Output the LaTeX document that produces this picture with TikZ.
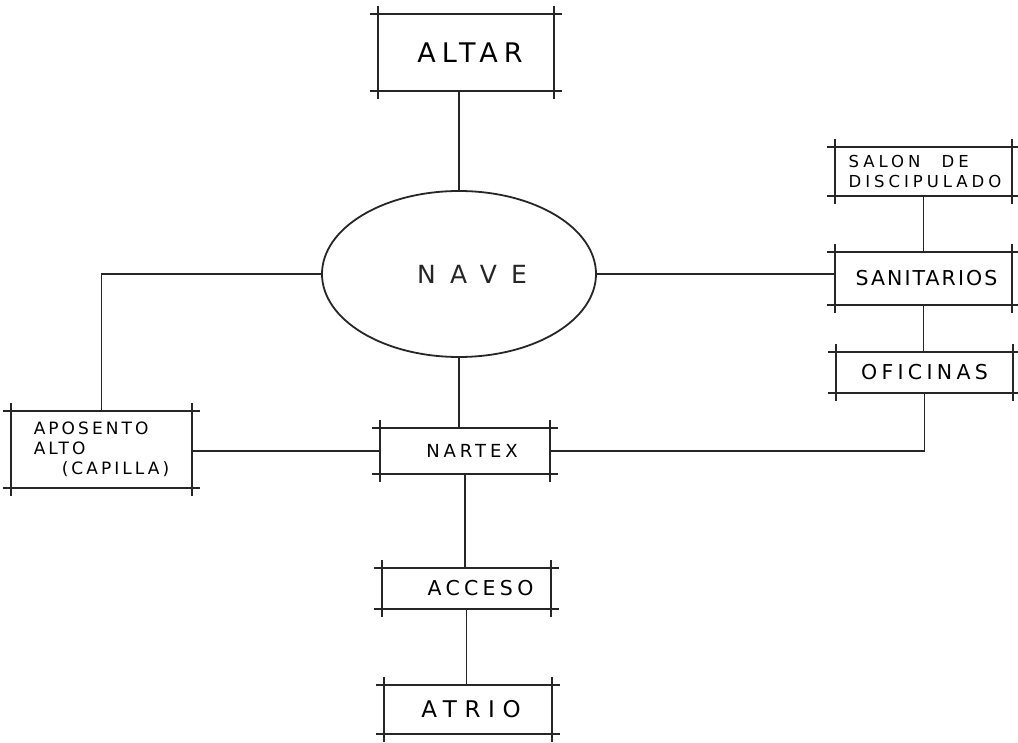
\documentclass[tikz,border=0pt]{standalone}
\usepackage{fontspec}
\newfontfamily\hand{DejaVu Sans}
\usetikzlibrary{shapes.geometric}
\newcommand\hf[2]{\hand\fontsize{#1}{20}\selectfont\addfontfeature{LetterSpace=#2}}
\newcommand\skbox[1]{%
  \draw[boxline] ([xshift=-8pt]#1.north west) -- ([xshift=8pt]#1.north east);
  \draw[boxline] ([xshift=-8pt]#1.south west) -- ([xshift=8pt]#1.south east);
  \draw[boxline] ([yshift=8pt]#1.north west) -- ([yshift=-8pt]#1.south west);
  \draw[boxline] ([yshift=8pt]#1.north east) -- ([yshift=-8pt]#1.south east);}
\begin{document}
\begin{tikzpicture}[x=1pt,y=-1pt,
  box/.style={draw=none, inner sep=0pt, rectangle},
  boxline/.style={line width=1.8pt, black!85},
  conn/.style={line width=1.8pt, black!85}]
\useasboundingbox (0,0) rectangle (1018,743);
\node[box, minimum width=176, minimum height=77, font=\hf{27}{22}] (altar) at (466,52.5) {\hspace{8pt}ALTAR};
\node[ellipse, draw, line width=1.8pt, black!85, inner sep=0pt, minimum width=274, minimum height=166, font=\hf{25}{57}] (nave) at (459,274) {\hspace{26pt}NAVE};
\node[box, minimum width=177, minimum height=49, align=left, font=\hf{16.5}{24}] (salon) at (923.5,171.5) {\hspace{3pt}SALON\hspace{12pt} DE\\\hspace{3pt}DISCIPULADO};
\node[box, minimum width=177, minimum height=53, font=\hf{20.5}{10}] (sanit) at (923.5,278.5) {\hspace{6pt}SANITARIOS};
\node[box, minimum width=177, minimum height=41, font=\hf{20.5}{21}] (ofic) at (924.5,372.5) {OFICINAS};
\node[box, minimum width=181, minimum height=77, align=left, font=\hf{17}{18}] (apos) at (101.5,449.5) {APOSENTO\\ALTO\\\hspace{28pt}(CAPILLA)};
\node[box, minimum width=170, minimum height=46, font=\hf{18}{22}] (nartex) at (465,451) {\hspace{14pt}NARTEX};
\node[box, minimum width=169, minimum height=41, font=\hf{20.5}{21}] (acceso) at (466.5,588.5) {\hspace{28pt}ACCESO};
\node[box, minimum width=168, minimum height=49, font=\hf{23}{33}] (atrio) at (468,709.5) {\hspace{6pt}ATRIO};
\skbox{altar}\skbox{salon}\skbox{sanit}\skbox{ofic}\skbox{apos}\skbox{nartex}\skbox{acceso}\skbox{atrio}
\draw[conn] (nave.north) -- (nave.north |- altar.south);
\draw[conn] (nave.west) -| (apos.north);
\draw[conn] (nave.east) -- (nave.east -| sanit.west);
\draw[conn] (salon.south) -- (salon.south |- sanit.north);
\draw[conn] (sanit.south) -- (sanit.south |- ofic.north);
\draw[conn] (ofic.south) |- (nartex.east);
\draw[conn] (nartex.west) -- (nartex.west -| apos.east);
\draw[conn] (nave.south) -- (nave.south |- nartex.north);
\draw[conn] (nartex.south) -- (nartex.south |- acceso.north);
\draw[conn] (acceso.south) -- (acceso.south |- atrio.north);
\end{tikzpicture}
\end{document}
